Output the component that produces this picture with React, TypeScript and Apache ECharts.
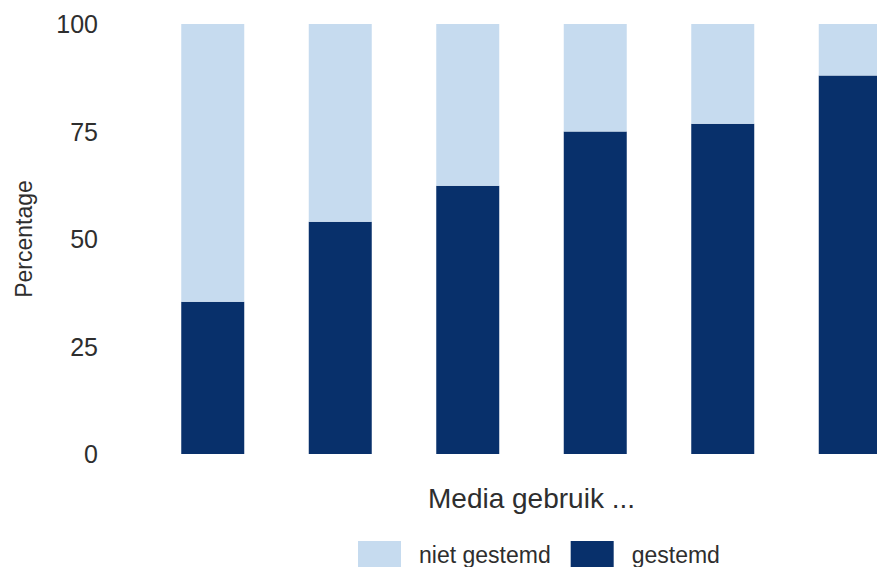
import React, { useEffect, useRef } from "react";
import * as echarts from "echarts";

const categories = ["1", "2", "3", "4", "5", "6"];
const gestemd = [35.4, 54.0, 62.4, 75.0, 76.8, 88.0];
const nietGestemd = [64.6, 46.0, 37.6, 25.0, 23.2, 12.0];
const yTicks = { min: 0, max: 100, interval: 25 };

const FONT = "Liberation Sans, Arial, Helvetica, sans-serif";
const TEXT = "#2e2e2e";

export default function App() {
  const ref = useRef<HTMLDivElement>(null);
  useEffect(() => {
    if (!ref.current) return;
    const chart = echarts.init(ref.current, undefined, { renderer: "svg" });
    chart.setOption({
      animation: false,
      textStyle: { fontFamily: FONT },
      grid: { left: 149, right: 0, top: 24, bottom: 113 },
      legend: {
        data: ["niet gestemd", "gestemd"],
        left: 353,
        top: 536,
        itemWidth: 43,
        itemHeight: 27,
        itemGap: 20,
        icon: "rect",
        textStyle: { fontSize: 23, color: TEXT, fontFamily: FONT, padding: [0, 0, 0, 13] },
      },
      xAxis: {
        type: "category",
        data: categories,
        name: "Media gebruik ...",
        nameLocation: "middle",
        nameGap: 30,
        nameTextStyle: { fontSize: 28, color: TEXT, fontFamily: FONT, verticalAlign: "top" },
        axisLine: { show: false },
        axisTick: { show: false },
        axisLabel: { show: false },
        splitLine: { show: false },
      },
      yAxis: {
        type: "value",
        min: yTicks.min,
        max: yTicks.max,
        interval: yTicks.interval,
        name: "Percentage",
        nameLocation: "middle",
        nameGap: 114,
        nameRotate: 90,
        nameTextStyle: { fontSize: 23, color: TEXT, fontFamily: FONT },
        axisLine: { show: false },
        axisTick: { show: false },
        splitLine: { show: false },
        axisLabel: { fontSize: 25, color: TEXT, fontFamily: FONT, margin: 51 },
      },
      series: [
        {
          name: "gestemd",
          type: "bar",
          stack: "total",
          data: gestemd,
          barWidth: 63,
          itemStyle: { color: "#08306b" },
        },
        {
          name: "niet gestemd",
          type: "bar",
          stack: "total",
          data: nietGestemd,
          barWidth: 63,
          itemStyle: { color: "#c6dbef" },
        },
      ],
    });
    return () => chart.dispose();
  }, []);
  return (
    <div
      style={{
        position: "fixed",
        left: 0,
        top: 0,
        width: 877,
        height: 567,
        overflow: "hidden",
        background: "#fff",
      }}
    >
      <div ref={ref} style={{ width: 914, height: 567 }} />
    </div>
  );
}
